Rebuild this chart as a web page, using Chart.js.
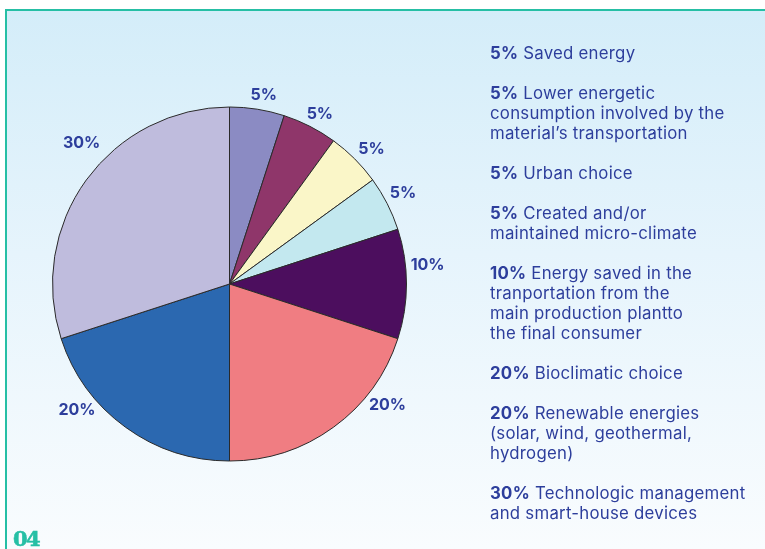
<!DOCTYPE html>
<html>
<head>
<meta charset="utf-8">
<script src="https://cdn.jsdelivr.net/npm/chart.js@4.4.0/dist/chart.umd.min.js"></script>
<style>
  html, body { margin: 0; padding: 0; width: 765px; height: 549px; overflow: hidden; background: #ffffff; }
  #frame {
    position: absolute; left: 5px; top: 9px; width: 760px; height: 540px;
    border-left: 2px solid #26bfa5; border-top: 2px solid #26bfa5;
    background: linear-gradient(to bottom, #d4edf9 0%, #e6f4fc 45%, #f9fcfe 100%);
    box-sizing: border-box;
  }
  #chartWrap { position: absolute; left: 0; top: 0; width: 765px; height: 549px; }
  #legend {
    position: absolute; left: 490px; top: 43px; width: 275px;
    font-family: "Inter", sans-serif; font-size: 16.8px; line-height: 20px;
    color: #2d3e9c; white-space: pre; letter-spacing: 0.25px;
  }
  #legend .item { margin-bottom: 20px; }
  #legend b { font-weight: 700; }
  #page {
    position: absolute; left: 13px; top: 526px;
    font-family: "DejaVu Serif", serif; font-weight: bold; font-size: 21px;
    color: #26bfa5; letter-spacing: -1.5px;
    -webkit-text-stroke: 0.6px #26bfa5;
  }
</style>
</head>
<body>
<div id="frame"></div>
<div id="chartWrap"><canvas id="c" width="765" height="549"></canvas></div>
<div id="legend"></div>
<div id="page">04</div>
<script>
const categories = [
  "Saved energy",
  "Lower energetic\nconsumption involved by the\nmaterial’s transportation",
  "Urban choice",
  "Created and/or\nmaintained micro-climate",
  "Energy saved in the\ntranportation from the\nmain production plantto\nthe final consumer",
  "Bioclimatic choice",
  "Renewable energies\n(solar, wind, geothermal,\nhydrogen)",
  "Technologic management\nand smart-house devices"
];
const values = [5, 5, 5, 5, 10, 20, 20, 30];
const sliceColors = ["#8b8bc3", "#8f366a", "#faf6c8", "#c3e8ef", "#4c0e5e", "#f07d82", "#2b68b0", "#bfbcdd"];

// legend (real text)
const legendEl = document.getElementById('legend');
categories.forEach((cat, i) => {
  const d = document.createElement('div');
  d.className = 'item';
  const b = document.createElement('b');
  b.textContent = values[i] + '%';
  d.appendChild(b);
  d.appendChild(document.createTextNode(' ' + cat));
  legendEl.appendChild(d);
});

const labelPlugin = {
  id: 'outerLabels',
  afterDatasetsDraw(chart, args, opts) {
    const ctx = chart.ctx;
    const meta = chart.getDatasetMeta(0);
    ctx.save();
    ctx.font = 'bold 16px "Inter", sans-serif';
    ctx.fillStyle = '#2d3e9c';
    ctx.textAlign = 'center';
    ctx.textBaseline = 'middle';
    meta.data.forEach((arc, i) => {
      const p = arc.getProps(['x', 'y', 'startAngle', 'endAngle', 'outerRadius'], true);
      const f = opts.fractions[i];
      const a = p.startAngle + f * (p.endAngle - p.startAngle);
      const r = p.outerRadius + opts.offsets[i];
      ctx.fillText(chart.data.datasets[0].data[i] + '%', p.x + Math.cos(a) * r, p.y + Math.sin(a) * r);
    });
    ctx.restore();
  }
};

new Chart(document.getElementById('c'), {
  type: 'pie',
  data: {
    labels: categories,
    datasets: [{
      data: values,
      backgroundColor: sliceColors,
      borderColor: '#2a2a2a',
      borderWidth: 1
    }]
  },
  options: {
    responsive: false,
    animation: false,
    layout: { padding: { left: 52, right: 358, top: 106, bottom: 87 } },
    plugins: {
      legend: { display: false },
      tooltip: { enabled: false },
      outerLabels: {
        fractions: [0.57, 0.56, 0.58, 0.46, 0.35, 0.27, 0.70, 0.57],
        offsets: [15, 15, 19, 19, 22, 22, 21, 27]
      }
    }
  },
  plugins: [labelPlugin]
});
</script>
</body>
</html>
